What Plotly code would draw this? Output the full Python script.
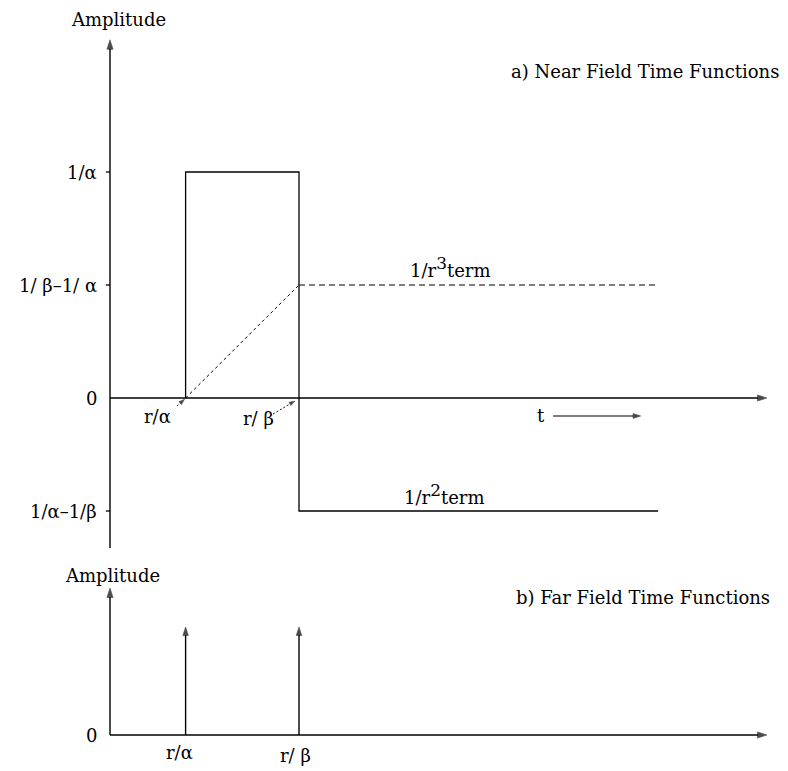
import plotly.graph_objects as go

# ---------------- data ----------------
t_alpha = 1.0          # r/alpha
t_beta = 2.5           # r/beta
t_end = 7.25           # end of drawn terms
near_t = [t_alpha, t_alpha, t_beta, t_beta, t_end]
near_amp = [0, 2, 2, -1, -1]          # 1/r^2 term (box then negative step)
r3_t = [t_beta, t_end]
r3_amp = [1, 1]                       # 1/r^3 term plateau
ramp_t = [t_alpha, t_beta]
ramp_amp = [0, 1]                     # 1/r^3 ramp
far_t = [t_alpha, t_beta]
far_amp = [1, 1]                      # far-field impulses
ytick_vals = [2, 1, 0, -1]
ytick_text = ["1/\u03b1", "1/ \u03b2\u20131/ \u03b1", "0", "1/\u03b1\u20131/\u03b2"]
far_ytick_vals = [0]
far_ytick_text = ["0"]
xlab_vals = [t_alpha, t_beta]
xlab_text = ["r/\u03b1", "r/ \u03b2"]

# axis extents (data units)
x_axis_end = 8.69
top_y_min, top_y_max = -1.327, 3.17
bot_y_max = 1.361

FONT = "DejaVu Serif"
FS = 18
O = 8                      # page body margin
W, H = 788 - O, 771 - O
split = 1 - (560 - O) / H

fig = go.Figure()

def seg(xs, ys, xa, ya, width=1.3, dash="solid"):
    fig.add_trace(go.Scatter(x=xs, y=ys, mode="lines", xaxis=xa, yaxis=ya,
                             line=dict(color="black", width=width, dash=dash),
                             hoverinfo="skip"))

def arrow(xs, ys, xa, ya, width=1.4, size=10, dash="solid"):
    fig.add_trace(go.Scatter(x=xs, y=ys, mode="lines+markers", xaxis=xa, yaxis=ya,
                             line=dict(color="black", width=width, dash=dash),
                             marker=dict(symbol="arrow", angleref="previous",
                                         size=[0] * (len(xs) - 1) + [size],
                                         color="black", line=dict(width=0.6, color="black")),
                             hoverinfo="skip"))

# axes
arrow([0, 0], [top_y_min, top_y_max], "x", "y")
arrow([0, x_axis_end], [0, 0], "x", "y")
arrow([0, 0], [0, bot_y_max], "x2", "y2")
arrow([0, x_axis_end], [0, 0], "x2", "y2")

# near-field curves
seg(near_t, near_amp, "x", "y", width=1.3)
seg(r3_t, r3_amp, "x", "y", width=1.1, dash="6px,4px")
seg(ramp_t, ramp_amp, "x", "y", width=1.0, dash="3px,3px")

# tick marks on top y-axis
tk_x, tk_y = [], []
for v in ytick_vals:
    if v != 0:
        tk_x += [-0.055, 0, None]
        tk_y += [v, v, None]
seg(tk_x, tk_y, "x", "y", width=1.3)

# far-field impulses
for t, a in zip(far_t, far_amp):
    arrow([t, t], [0, a], "x2", "y2", size=9)

# small pointer arrows to r/alpha and r/beta
arrow([0.886, t_alpha - 0.015], [-0.071, -0.012], "x", "y", width=0.9, size=6, dash="2px,2px")
arrow([2.156, t_beta - 0.055], [-0.142, -0.027], "x", "y", width=0.9, size=6, dash="2px,2px")

# time arrow
arrow([5.86, 7.02], [-0.159, -0.159], "x", "y", width=1.1, size=8)

ann = []
def text(x, y, s, xr, yr, xanchor="center", xshift=0, yshift=0, size=FS):
    ann.append(dict(x=x, y=y, xref=xr, yref=yr, text=s, showarrow=False,
                    xanchor=xanchor, yanchor="middle", xshift=xshift, yshift=yshift,
                    font=dict(family=FONT, size=size, color="black")))

# y tick labels
for v, s in zip(ytick_vals, ytick_text):
    text(0, v, s, "x", "y", xanchor="right", xshift=-11)
for v, s in zip(far_ytick_vals, far_ytick_text):
    text(0, v, s, "x2", "y2", xanchor="right", xshift=-11)

# x labels
text(xlab_vals[0], 0, xlab_text[0], "x", "y", xshift=-28, yshift=-18)
text(xlab_vals[1], 0, xlab_text[1], "x", "y", xshift=-41, yshift=-20)
text(xlab_vals[0], 0, xlab_text[0], "x2", "y2", xshift=-6, yshift=-17)
text(xlab_vals[1], 0, xlab_text[1], "x2", "y2", xshift=-4, yshift=-20)

text(5.70, -0.159, "t", "x", "y")

# term labels
sup = "<sup><span style='font-size:17px'>{}</span></sup>"
text(4.5, 1, "1/r" + sup.format("3") + "term", "x", "y", yshift=18)
text(4.43, -1, "1/r" + sup.format("2") + "term", "x", "y", yshift=17)

# titles / axis names (paper), given in page pixels
def ptext(px, py, s, xanchor="center"):
    ann.append(dict(x=(px - O) / W, y=1 - (py - O) / H, xref="paper", yref="paper",
                    text=s, showarrow=False, xanchor=xanchor, yanchor="middle",
                    font=dict(family=FONT, size=FS, color="black")))
ptext(118, 20, "Amplitude")
ptext(112, 575, "Amplitude")
ptext(781, 72, "a) Near Field Time Functions", xanchor="right")
ptext(772, 597, "b) Far Field Time Functions", xanchor="right")

s = 75.6
x0 = 110 - O
xr = [-x0 / s, (W - x0) / s]
ax_common = dict(visible=False, showgrid=False, zeroline=False, fixedrange=True)
fig.update_layout(
    width=W, height=H, margin=dict(l=0, r=0, t=0, b=0),
    paper_bgcolor="white", plot_bgcolor="white", showlegend=False,
    xaxis=dict(range=xr, domain=[0, 1], anchor="y", **ax_common),
    yaxis=dict(range=[(398 - 560) / 113, (398 - O) / 113], domain=[split, 1], anchor="x", **ax_common),
    xaxis2=dict(range=xr, domain=[0, 1], anchor="y2", **ax_common),
    yaxis2=dict(range=[(735 - 771) / 108, (735 - 560) / 108], domain=[0, split], anchor="x2", **ax_common),
    annotations=ann,
)
fig.write_html("out.html")
